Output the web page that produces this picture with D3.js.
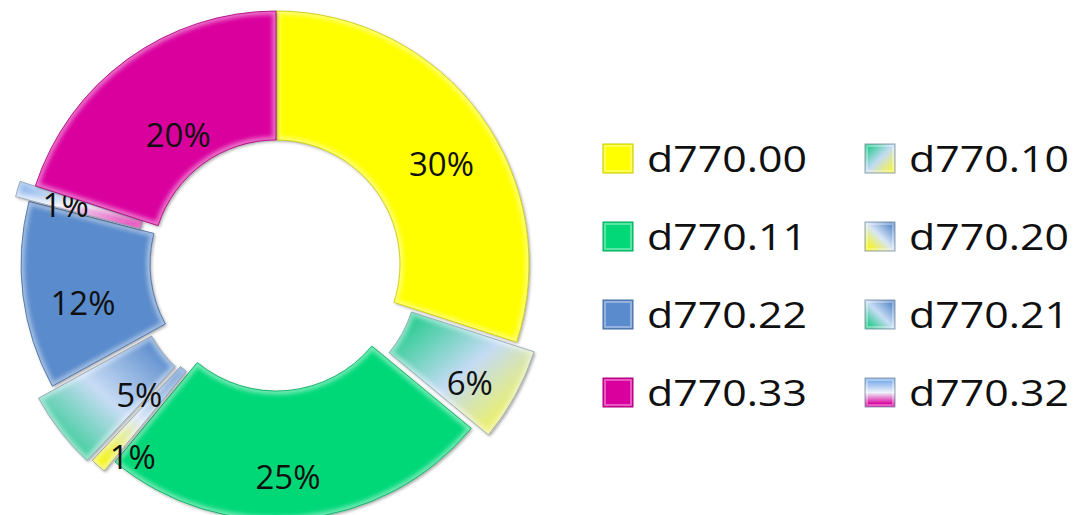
<!DOCTYPE html>
<html>
<head>
<meta charset="utf-8">
<script src="https://cdn.jsdelivr.net/npm/d3@7"></script>
<style>
  html, body { margin: 0; background: #ffffff; }
  svg { display: block; }
</style>
</head>
<body>
<svg id="chart" width="1074" height="515"></svg>
<script>
// ---- data ----
const categories = ["d770.00", "d770.10", "d770.11", "d770.20", "d770.21", "d770.22", "d770.32", "d770.33"];
const shares     = [30, 6, 25, 1, 5, 12, 1, 20];
const legendRows = [
  ["d770.00", "d770.10"],
  ["d770.11", "d770.20"],
  ["d770.22", "d770.21"],
  ["d770.33", "d770.32"]
];

// ---- look & layout ----
const solidFill = { "d770.00": "#FFFF00", "d770.11": "#02D878", "d770.22": "#5A8BCC", "d770.33": "#DA009E" };
const blendFill = {
  "d770.10": { x1: 0, y1: 0, x2: 1, y2: 1, stops: [[0.08, "#1FCB8A"], [0.5, "#C4DBF4"], [0.9, "#F4F44A"]] },
  "d770.20": { x1: 0, y1: 1, x2: 1, y2: 0, stops: [[0.1, "#F4F418"], [0.5, "#D8E6F6"], [0.9, "#5A8BCC"]] },
  "d770.21": { x1: 0, y1: 1, x2: 1, y2: 0, stops: [[0.12, "#2ACB8E"], [0.5, "#C8DCF5"], [0.9, "#5A8BCC"]] },
  "d770.32": { x1: 0, y1: 0, x2: 0, y2: 1, stops: [[0.1, "#7FAEEA"], [0.5, "#EEF2FA"], [0.9, "#DA009E"]] }
};
const explode = { "d770.00": 0, "d770.10": 20, "d770.11": 3, "d770.20": 16, "d770.21": 20, "d770.22": 2, "d770.32": 16, "d770.33": 0 };
const labelNudge = {
  "d770.00": [13, 11], "d770.10": [11, 19], "d770.11": [-6, 22], "d770.20": [-8, 40],
  "d770.21": [28, 3], "d770.22": [-4, 15], "d770.32": [-14, -2], "d770.33": [13, 24]
};

const cx = 276, cy = 264, outerR = 253, innerR = 124;

const svg = d3.select("#chart");
const defs = svg.append("defs");

// gradients for the blended series
Object.entries(blendFill).forEach(([key, g]) => {
  const lg = defs.append("linearGradient")
    .attr("id", "grad-" + key.replace(".", "-"))
    .attr("x1", g.x1).attr("y1", g.y1).attr("x2", g.x2).attr("y2", g.y2);
  g.stops.forEach(([o, c]) => lg.append("stop").attr("offset", o).attr("stop-color", c));
});

defs.append("filter").attr("id", "soft").attr("x", "-20%").attr("y", "-20%").attr("width", "140%").attr("height", "140%")
  .append("feGaussianBlur").attr("stdDeviation", 2.2);

const shadow = defs.append("filter").attr("id", "shadow")
  .attr("x", "-20%").attr("y", "-20%").attr("width", "140%").attr("height", "140%");
shadow.append("feDropShadow").attr("dx", 1.5).attr("dy", 1.5).attr("stdDeviation", 1.5)
  .attr("flood-color", "#000").attr("flood-opacity", 0.35);

const fillOf = k => solidFill[k] ? solidFill[k] : `url(#grad-${k.replace(".", "-")})`;
const edgeOf = k => solidFill[k] ? d3.color(solidFill[k]).darker(0.7).formatHex() : "#8fa0b0";

const color = d3.scaleOrdinal().domain(categories).range(categories.map(fillOf));
const edge  = d3.scaleOrdinal().domain(categories).range(categories.map(edgeOf));

const table = categories.map((c, i) => ({ key: c, value: shares[i] }));
const pie = d3.pie().sort(null).value(d => d.value).startAngle(0).endAngle(2 * Math.PI);
const arc = d3.arc().innerRadius(innerR).outerRadius(outerR);
const labelArc = d3.arc().innerRadius((innerR + outerR) / 2).outerRadius((innerR + outerR) / 2);

const arcs = pie(table);

const ring = svg.append("g").attr("transform", `translate(${cx},${cy})`);

const slices = ring.selectAll("g.slice").data(arcs).join("g")
  .attr("class", "slice")
  .attr("transform", d => {
    const a = (d.startAngle + d.endAngle) / 2, e = explode[d.data.key];
    return `translate(${Math.sin(a) * e},${-Math.cos(a) * e})`;
  });

slices.each(function (d, i) {
  const g = d3.select(this);
  const id = "clip-" + i;
  defs.append("clipPath").attr("id", id).append("path").attr("d", arc(d));
  // base fill
  g.append("path").attr("d", arc(d))
    .attr("fill", color(d.data.key))
    .attr("filter", "url(#shadow)");
  // bevel highlight around the rim
  g.append("path").attr("d", arc(d))
    .attr("fill", "none")
    .attr("stroke", "#ffffff").attr("stroke-width", 7)
    .attr("stroke-opacity", 0.45)
    .attr("filter", "url(#soft)")
    .attr("clip-path", `url(#${id})`);
  // thin outline
  g.append("path").attr("d", arc(d))
    .attr("fill", "none")
    .attr("stroke", edge(d.data.key)).attr("stroke-width", 1)
    .attr("stroke-opacity", 0.8);
});

// percentage labels
const fmt = d3.format(".0%");
slices.append("text")
  .attr("transform", d => {
    const [x, y] = labelArc.centroid(d);
    const [nx, ny] = labelNudge[d.data.key];
    return `translate(${x + nx},${y + ny})`;
  })
  .attr("text-anchor", "middle")
  .attr("dy", "0.36em")
  .attr("font-family", "'Open Sans', sans-serif")
  .attr("font-size", 33)
  .attr("fill", "#101010")
  .text(d => fmt(d.data.value / 100));

// legend
const legendX = d3.scalePoint().domain([0, 1]).range([603, 865]);
const legendY = d3.scalePoint().domain(d3.range(legendRows.length)).range([144, 378]);

const legend = svg.append("g").attr("class", "legend");
legendRows.forEach((row, r) => {
  row.forEach((key, c) => {
    const item = legend.append("g")
      .attr("transform", `translate(${legendX(c)},${legendY(r)})`);
    item.append("rect")
      .attr("width", 30).attr("height", 29)
      .attr("fill", color(key))
      .attr("stroke", edge(key)).attr("stroke-width", 1);
    item.append("rect")
      .attr("x", 2).attr("y", 2).attr("width", 26).attr("height", 25)
      .attr("fill", "none").attr("stroke", "#ffffff").attr("stroke-opacity", 0.35).attr("stroke-width", 2);
    item.append("text")
      .attr("x", 44).attr("y", 28)
      .attr("font-family", "'Open Sans', sans-serif")
      .attr("font-size", 37)
      .attr("fill", "#101010")
      .attr("textLength", 160)
      .attr("lengthAdjust", "spacingAndGlyphs")
      .text(key);
  });
});
</script>
</body>
</html>
